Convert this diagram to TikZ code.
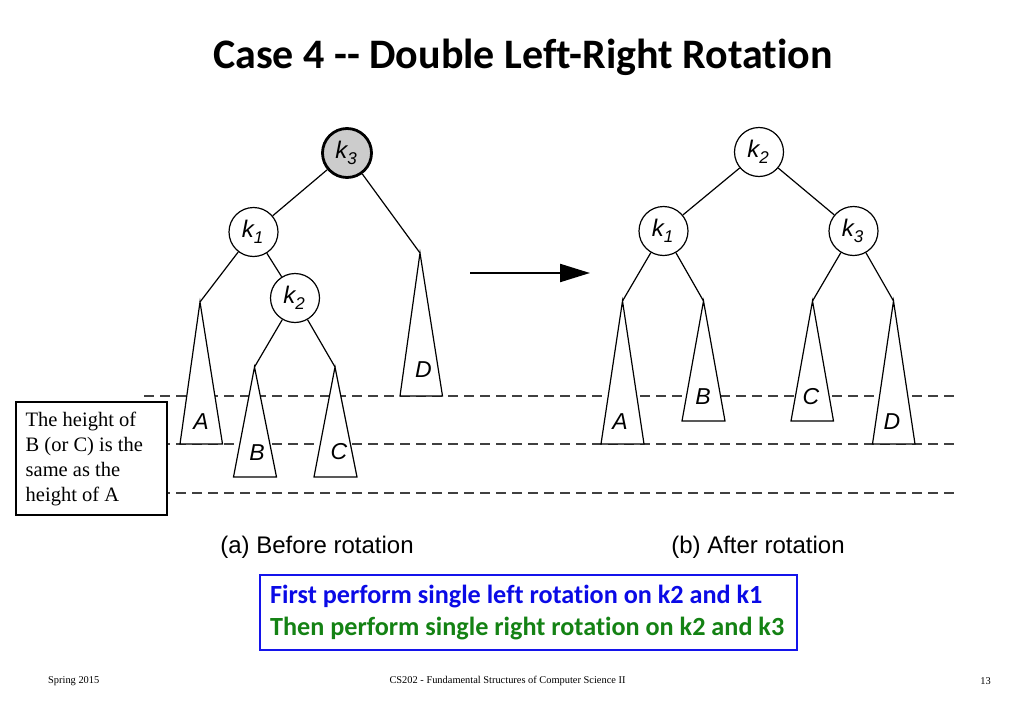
\documentclass[tikz,border=0pt]{standalone}
\usepackage{fontspec}
\setmainfont{Liberation Serif}
\newfontfamily\helv{Liberation Sans}
\newfontfamily\calib[Ligatures=NoCommon]{Carlito}
\usetikzlibrary{arrows.meta}
\definecolor{boxblue}{RGB}{20,20,235}
\definecolor{txtblue}{RGB}{10,10,230}
\definecolor{txtgreen}{RGB}{20,130,20}
\tikzset{
  knode/.style={circle,draw=black,line width=1.2pt,fill=white,minimum size=49pt,inner sep=0pt,font=\helv\itshape\fontsize{24}{24}\selectfont},
  rootnode/.style={knode,line width=2.8pt,fill=black!20},
  edge/.style={line width=1.2pt},
  subtree/.style={line width=1.2pt,fill=white},
  tlabel/.style={font=\helv\itshape\fontsize{23}{26}\selectfont,inner sep=0pt},
  level/.style={dashed,dash pattern=on 10pt off 6pt,line width=1.6pt,draw=black!75},
}
\newcommand{\kk}[1]{\kern-2pt k\kern0pt\raisebox{-6pt}{\fontsize{17}{17}\selectfont #1}}
\begin{document}
\begin{tikzpicture}[x=1pt,y=-1pt]
\useasboundingbox (0,0) rectangle (1024,709);
\fill[white] (0,0) rectangle (1024,709);

% title
\node[font=\calib\bfseries\fontsize{42}{44}\selectfont] (title) at (523,57) {Case 4 -- Double Left-Right Rotation};

% dashed levels
\coordinate (l1a) at (144,396); \coordinate (l1b) at (960,396);
\coordinate (l2a) at (144,444); \coordinate (l2b) at (960,444);
\coordinate (l3a) at (144,493); \coordinate (l3b) at (960,493);
\draw[level] (l1a) -- (l1b);
\draw[level] (l2a) -- (l2b);
\draw[level] (l3a) -- (l3b);

% ---------- left tree ----------
\coordinate (LA) at (200,302);
\coordinate (LB) at (254.5,367);
\coordinate (LC) at (335,367);
\coordinate (LD) at (420,253);
\node[rootnode] (Lk3) at (347,153) {\kk{3}};
\node[knode] (Lk1) at (253.5,232) {\kk{1}};
\node[knode] (Lk2) at (295,298) {\kk{2}};
\draw[edge] (Lk3) -- (Lk1);
\draw[edge] (Lk3) -- (LD);
\draw[edge] (Lk1) -- (LA);
\draw[edge] (Lk1) -- (Lk2);
\draw[edge] (Lk2) -- (LB);
\draw[edge] (Lk2) -- (LC);
\draw[subtree] (LA) -- (222.5,444) -- (180,444) -- cycle;
\draw[subtree] (LB) -- (276.5,477) -- (233.5,477) -- cycle;
\draw[subtree] (LC) -- (357,477) -- (314,477) -- cycle;
\draw[subtree] (LD) -- (442.5,396) -- (400,396) -- cycle;
\node[tlabel] (LAl) at (201,421.5) {A};
\node[tlabel] (LBl) at (257,453) {B};
\node[tlabel] (LCl) at (339,452) {C};
\node[tlabel] (LDl) at (423.5,370) {D};

% arrow
\coordinate (arA) at (470,273);
\coordinate (arB) at (590,273);
\draw[line width=2.2pt,-{Triangle[length=30pt,width=18pt]}] (arA) -- (arB);

% ---------- right tree ----------
\coordinate (RA) at (622.5,301);
\coordinate (RB) at (703.5,301);
\coordinate (RC) at (812.5,301);
\coordinate (RD) at (893.5,301);
\node[knode] (Rk2) at (759,152) {\kk{2}};
\node[knode] (Rk1) at (663.5,231) {\kk{1}};
\node[knode] (Rk3) at (853.5,231) {\kk{3}};
\draw[edge] (Rk2) -- (Rk1);
\draw[edge] (Rk2) -- (Rk3);
\draw[edge] (Rk1) -- (RA);
\draw[edge] (Rk1) -- (RB);
\draw[edge] (Rk3) -- (RC);
\draw[edge] (Rk3) -- (RD);
\draw[subtree] (RA) -- (644,444) -- (601,444) -- cycle;
\draw[subtree] (RB) -- (725,421) -- (682,421) -- cycle;
\draw[subtree] (RC) -- (833.5,421) -- (791,421) -- cycle;
\draw[subtree] (RD) -- (915,444) -- (872.5,444) -- cycle;
\node[tlabel] (RAl) at (620,421.5) {A};
\node[tlabel] (RBl) at (703,397) {B};
\node[tlabel] (RCl) at (811,397) {C};
\node[tlabel] (RDl) at (892,421.5) {D};

% captions
\node[font=\helv\fontsize{24}{26}\selectfont] (capa) at (317,547) {(a) Before rotation};
\node[font=\helv\fontsize{24}{26}\selectfont] (capb) at (758,547) {(b) After rotation};

% note box
\node[draw=black,line width=2pt,fill=white,anchor=north west,minimum width=151pt,minimum height=113pt,inner sep=0pt] (note) at (15,401) {};
\node[anchor=north west,align=left,inner sep=0pt,font=\fontsize{20.5}{25}\selectfont] (notetext) at (25.5,412) {The height of\\B (or C) is the\\same as the\\height of A};

% blue box
\node[draw=boxblue,line width=2pt,anchor=north west,minimum width=537pt,minimum height=75pt,inner sep=0pt] (bbox) at (259,574) {};
\node[anchor=west,inner sep=0pt,text=txtblue,font=\calib\bfseries\fontsize{26.2}{28}\selectfont] (line1) at (270,597) {First perform single left rotation on k2 and k1};
\node[anchor=west,inner sep=0pt,text=txtgreen,font=\calib\bfseries\fontsize{26.2}{28}\selectfont] (line2) at (270,629) {Then perform single right rotation on k2 and k3};

% footer
\node[anchor=west,inner sep=0pt,font=\fontsize{10.4}{12}\selectfont] (f1) at (48,681) {Spring 2015};
\node[inner sep=0pt,font=\fontsize{10.4}{12}\selectfont] (f2) at (507.5,681) {CS202 - Fundamental Structures of Computer Science II};
\node[anchor=east,inner sep=0pt,font=\fontsize{10.4}{12}\selectfont] (f3) at (991,681) {13};
\end{tikzpicture}
\end{document}
